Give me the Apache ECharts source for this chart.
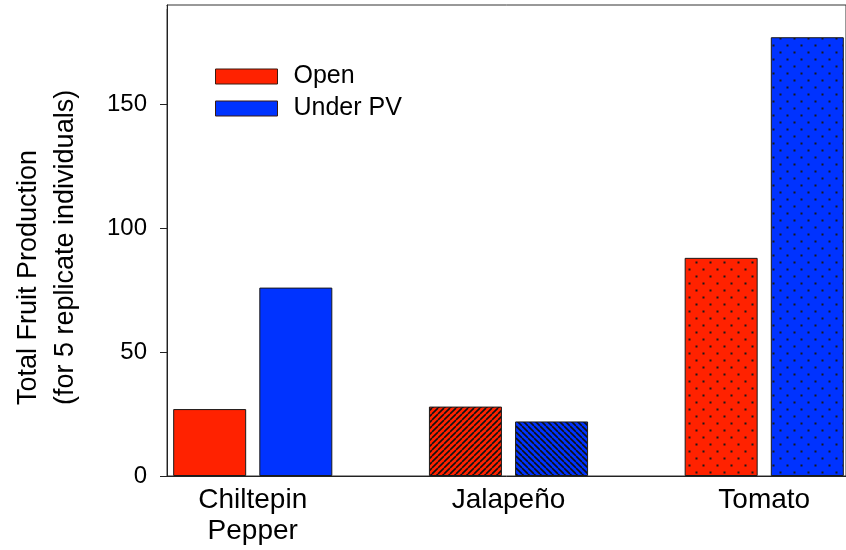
<!DOCTYPE html>
<html>
<head>
<meta charset="utf-8">
<script src="https://cdn.jsdelivr.net/npm/echarts@6/dist/echarts.min.js"></script>
<style>
html,body{margin:0;padding:0;background:#fff;}
#chart{width:846px;height:550px;}
</style>
</head>
<body>
<div id="chart"></div>
<script>
// ---- data ----
var categories = ['Chiltepin\nPepper', 'Jalapeño', 'Tomato'];
var openValues = [27, 28, 88];
var underPVValues = [76, 22, 177];
var yTickValues = [0, 50, 100, 150];
var seriesNames = ['Open', 'Under PV'];
var yAxisTitle = 'Total Fruit Production\n(for 5 replicate individuals)';

// ---- styles ----
var categoryFill = ['solid', 'hatch', 'dots'];
var hatchDir = { 'Open': 1, 'Under PV': -1 };
var colors = { 'Open': '#ff2200', 'Under PV': '#0033ff' };
var FONT = '"Liberation Sans", Arial, sans-serif';

function hatchPattern(color, dir) {
  var s = 6;
  var c = document.createElement('canvas');
  c.width = s; c.height = s;
  var g = c.getContext('2d');
  g.fillStyle = color; g.fillRect(0, 0, s, s);
  g.strokeStyle = '#111'; g.lineWidth = 1.6;
  g.beginPath();
  [-s, 0, s].forEach(function (o) {
    if (dir > 0) { g.moveTo(o, s); g.lineTo(o + s, 0); }
    else { g.moveTo(o, 0); g.lineTo(o + s, s); }
  });
  g.stroke();
  return { image: c, repeat: 'repeat' };
}
function dotPattern(color) {
  var s = 14;
  var c = document.createElement('canvas');
  c.width = s; c.height = s;
  var g = c.getContext('2d');
  g.fillStyle = color; g.fillRect(0, 0, s, s);
  g.fillStyle = '#1a1a1a';
  g.fillRect(2.5, 2.5, 2, 2);
  g.fillRect(9.5, 9.5, 2, 2);
  return { image: c, repeat: 'repeat' };
}
function fillFor(name, i) {
  var col = colors[name];
  if (categoryFill[i] === 'hatch') return hatchPattern(col, hatchDir[name]);
  if (categoryFill[i] === 'dots') return dotPattern(col);
  return col;
}
function makeSeries(name, values) {
  return {
    name: name,
    type: 'bar',
    barWidth: 73,
    barGap: '18%',
    itemStyle: { color: colors[name], borderColor: '#1a1a1a', borderWidth: 1 },
    data: values.map(function (v, i) {
      return { value: [i + 1, v], itemStyle: { color: fillFor(name, i) } };
    })
  };
}

var chart = echarts.init(document.getElementById('chart'), null, { renderer: 'canvas' });
chart.setOption({
  animation: false,
  backgroundColor: '#fff',
  grid: {
    left: 167, right: -2, top: 5, bottom: 74,
    show: true, borderColor: '#333', borderWidth: 1, backgroundColor: 'transparent'
  },
  legend: {
    left: 215, top: 64, orient: 'vertical',
    padding: 0, itemGap: 7,
    itemWidth: 62, itemHeight: 15, icon: 'rect',
    itemStyle: { borderColor: '#3a1a10', borderWidth: 1 },
    textStyle: { fontSize: 25, fontFamily: FONT, color: '#000', lineHeight: 25, padding: [0, 0, 0, 11] },
    data: seriesNames
  },
  xAxis: {
    type: 'value',
    min: 0.6647, max: 3.3197,
    axisLine: { show: true, lineStyle: { color: '#222', width: 1 } },
    axisTick: { show: false },
    splitLine: { show: false },
    axisLabel: {
      customValues: categories.map(function (c, i) { return i + 1; }),
      formatter: function (v) { return categories[Math.round(v) - 1] || ''; },
      fontSize: 28, lineHeight: 31, fontFamily: FONT, color: '#000', margin: 9,
      verticalAlign: 'top'
    }
  },
  yAxis: {
    type: 'value',
    min: 0, max: 190, interval: 50,
    axisLine: { show: true, lineStyle: { color: '#222', width: 1 } },
    axisTick: { show: true, inside: false, length: 7, lineStyle: { color: '#222', width: 1 } },
    splitLine: { show: false },
    axisLabel: { customValues: yTickValues, fontSize: 24, fontFamily: FONT, color: '#000', margin: 20 }
  },
  graphic: [{
    type: 'text',
    x: 47, y: 405,
    rotation: Math.PI / 2,
    style: {
      text: yAxisTitle,
      fontSize: 27, fontFamily: FONT, fill: '#000',
      lineHeight: 37, align: 'left', verticalAlign: 'middle'
    }
  }, {
    // hide the automatic tick at the axis maximum (190), which the reference does not have
    type: 'rect', z: 100,
    shape: { x: 155, y: 0, width: 11.5, height: 9 },
    style: { fill: '#fff' }
  }],
  series: [makeSeries(seriesNames[0], openValues), makeSeries(seriesNames[1], underPVValues)]
});
</script>
</body>
</html>
